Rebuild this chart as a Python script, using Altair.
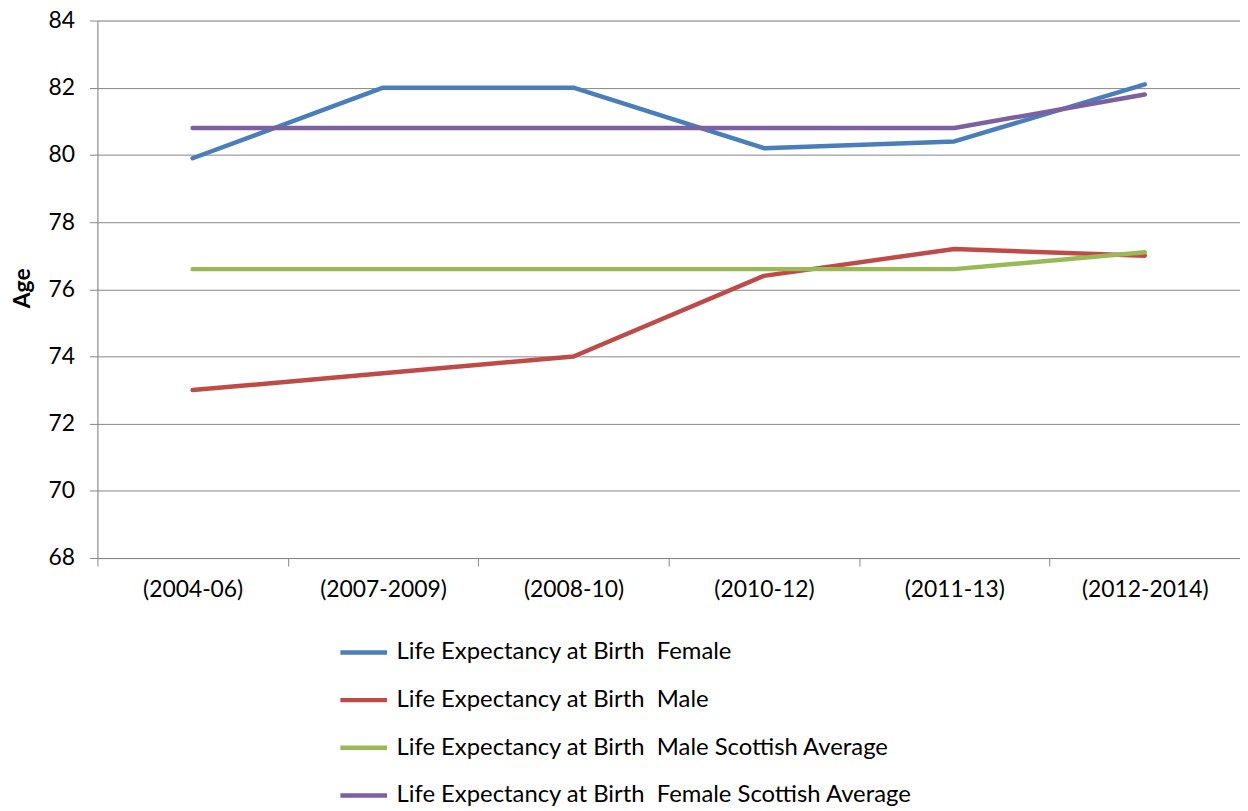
import altair as alt
import pandas as pd

periods = ["(2004-06)", "(2007-2009)", "(2008-10)", "(2010-12)", "(2011-13)", "(2012-2014)"]
series_names = [
    "Life Expectancy at Birth\u00a0 Female",
    "Life Expectancy at Birth\u00a0 Male",
    "Life Expectancy at Birth\u00a0 Male Scottish Average",
    "Life Expectancy at Birth\u00a0 Female Scottish Average",
]
female = [79.9, 82.0, 82.0, 80.2, 80.4, 82.1]
male = [73.0, 73.5, 74.0, 76.4, 77.2, 77.0]
male_scot = [76.6, 76.6, 76.6, 76.6, 76.6, 77.1]
female_scot = [80.8, 80.8, 80.8, 80.8, 80.8, 81.8]
colors = ["#4A7EBB", "#BE4B48", "#98B954", "#7D60A0"]
y_ticks = [68, 70, 72, 74, 76, 78, 80, 82, 84]

rows = []
for name, vals in zip(series_names, [female, male, male_scot, female_scot]):
    for p, v in zip(periods, vals):
        rows.append({"Period": p, "Series": name, "Age": v})
df = pd.DataFrame(rows)

FONT = "Lato"
GRID = "#868686"

chart = (
    alt.Chart(df)
    .mark_line(strokeWidth=4.5, strokeCap="round", strokeJoin="round")
    .encode(
        x=alt.X(
            "Period:N",
            sort=periods,
            bandPosition=0.5,
            scale=alt.Scale(type="band", paddingInner=0, paddingOuter=0),
            axis=alt.Axis(
                title=None,
                labelAngle=0,
                tickBand="extent",
                tickSize=8,
                tickColor=GRID,
                domainColor=GRID,
                labelPadding=13,
                labelFontSize=23,
                labelFont=FONT,
                labelColor="#000000",
                grid=False,
            ),
        ),
        y=alt.Y(
            "Age:Q",
            scale=alt.Scale(domain=[68, 84], nice=False, zero=False),
            axis=alt.Axis(
                title="Age",
                values=y_ticks,
                tickSize=8,
                tickColor=GRID,
                domainColor=GRID,
                gridColor=GRID,
                gridWidth=1,
                labelPadding=15,
                labelFontSize=23,
                labelFont=FONT,
                labelColor="#000000",
                titleFont=FONT,
                titleFontSize=23,
                titleFontWeight="bold",
                titleColor="#000000",
                titleX=-63,
                titleY=269,
                titleAngle=-90,
            ),
        ),
        color=alt.Color(
            "Series:N",
            sort=series_names,
            scale=alt.Scale(domain=series_names, range=colors),
            legend=alt.Legend(
                title=None,
                orient="none",
                legendX=242,
                legendY=610,
                direction="vertical",
                symbolType="stroke",
                symbolStrokeWidth=4.5,
                symbolSize=2200,
                labelFont=FONT,
                labelFontSize=24,
                labelColor="#000000",
                labelOffset=7,
                labelLimit=900,
                rowPadding=10,
            ),
        ),
    )
    .properties(
        width=1150,
        height=541,
        autosize=alt.AutoSizeParams(type="none"),
        padding={"left": 90, "top": 10, "right": 0, "bottom": 252},
    )
    .configure_view(stroke=None)
    .configure(background="#ffffff")
)

chart.save("out.html", embed_options={"renderer": "svg", "actions": False})
